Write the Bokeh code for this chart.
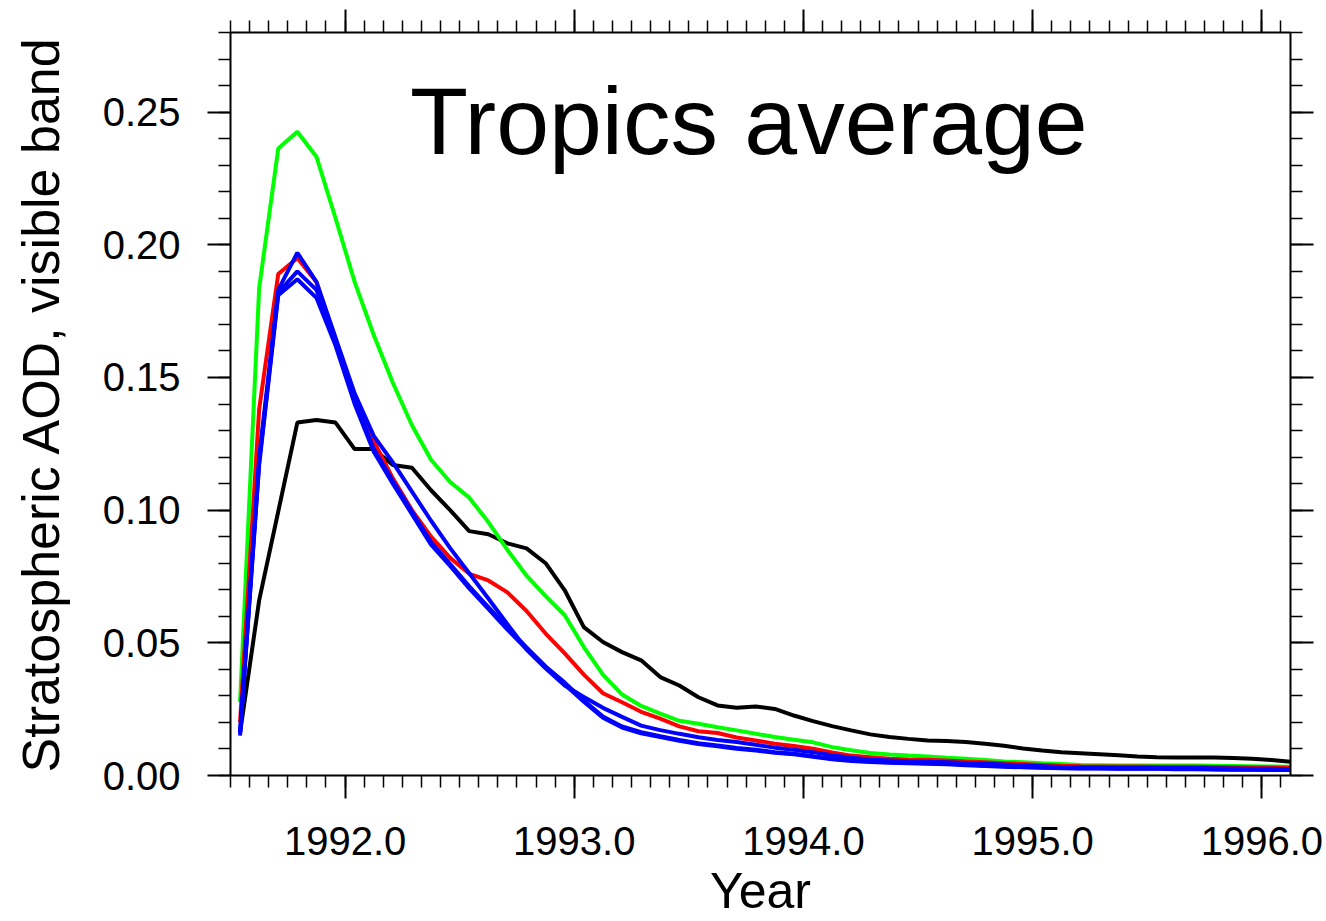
import numpy as np
from bokeh.plotting import figure
from bokeh.models import FixedTicker, PrintfTickFormatter, LinearAxis, Label, Range1d
from bokeh.embed import file_html
from bokeh.resources import INLINE

# ---------------- data ----------------
start_year = 1991.5          # first month: July 1991, plotted at mid-month
n_months = 56
time = start_year + (np.arange(n_months) + 0.5) / 12.0

obs_black = [0.016, 0.066, 0.0995, 0.133, 0.134, 0.133, 0.123, 0.123, 0.117, 0.116,
             0.1075, 0.100, 0.0921, 0.0909, 0.0875, 0.0856, 0.080, 0.0698, 0.0559, 0.0503,
             0.0465, 0.0434, 0.0371, 0.0339, 0.0295, 0.0264, 0.0255, 0.026, 0.0251, 0.0226,
             0.0205, 0.0186, 0.017, 0.0155, 0.0145, 0.0138, 0.0132, 0.013, 0.0126, 0.012,
             0.0112, 0.0102, 0.0094, 0.0088, 0.0084, 0.008, 0.0076, 0.0072, 0.0069, 0.0068,
             0.0068, 0.0068, 0.0066, 0.0063, 0.0058, 0.0052]

run_green = [0.0277, 0.1836, 0.2363, 0.2426, 0.2332, 0.210, 0.186, 0.166, 0.148, 0.132,
             0.119, 0.1106, 0.1047, 0.0955, 0.085, 0.0753, 0.0676, 0.0604, 0.0484, 0.038,
             0.0305, 0.0262, 0.0233, 0.0206, 0.0195, 0.0182, 0.017, 0.0157, 0.0145, 0.0135,
             0.0125, 0.0107, 0.0095, 0.0085, 0.0079, 0.0075, 0.0072, 0.0067, 0.0063, 0.0058,
             0.0053, 0.005, 0.0046, 0.0043, 0.004, 0.0039, 0.0038, 0.0038, 0.0038, 0.0038,
             0.0038, 0.0037, 0.0036, 0.0035, 0.0034, 0.0033]

run_red = [0.02, 0.138, 0.189, 0.195, 0.186, 0.164, 0.143, 0.126, 0.112, 0.100,
           0.090, 0.082, 0.076, 0.0735, 0.069, 0.062, 0.0535, 0.046, 0.038, 0.031,
           0.0276, 0.024, 0.0214, 0.0185, 0.0167, 0.016, 0.0143, 0.0132, 0.012, 0.0111,
           0.0101, 0.0087, 0.0075, 0.0069, 0.0063, 0.006, 0.0059, 0.0057, 0.0053, 0.005,
           0.0046, 0.0043, 0.004, 0.0037, 0.0035, 0.0034, 0.0034, 0.0034, 0.0033, 0.0033,
           0.0033, 0.0032, 0.0031, 0.003, 0.003, 0.0029]

run_blue1 = [0.016, 0.12, 0.183, 0.197, 0.186, 0.165, 0.144, 0.128, 0.118, 0.107,
             0.096, 0.0857, 0.0762, 0.0667, 0.057, 0.0475, 0.0404, 0.0339, 0.0296, 0.0255,
             0.0221, 0.0188, 0.0171, 0.0157, 0.0144, 0.0134, 0.0126, 0.0116, 0.0105, 0.0097,
             0.0088, 0.0076, 0.0067, 0.006, 0.0057, 0.0054, 0.0052, 0.005, 0.0047, 0.0044,
             0.0041, 0.0038, 0.0035, 0.0032, 0.003, 0.003, 0.0029, 0.0029, 0.0029, 0.0028,
             0.0028, 0.0027, 0.0026, 0.0025, 0.0025, 0.0024]

run_blue2 = [0.016, 0.118, 0.182, 0.190, 0.183, 0.163, 0.142, 0.123, 0.111, 0.0995,
             0.088, 0.0797, 0.0713, 0.0635, 0.0557, 0.0483, 0.0411, 0.035, 0.0283, 0.0222,
             0.0185, 0.0163, 0.0148, 0.0134, 0.0122, 0.0113, 0.0104, 0.0097, 0.0088, 0.0082,
             0.0073, 0.0063, 0.0057, 0.0053, 0.005, 0.0048, 0.0046, 0.0044, 0.0041, 0.0038,
             0.0035, 0.0032, 0.003, 0.0028, 0.0027, 0.0027, 0.0026, 0.0026, 0.0026, 0.0025,
             0.0025, 0.0024, 0.0023, 0.0023, 0.0022, 0.0022]

run_blue3 = [0.015, 0.117, 0.181, 0.187, 0.180, 0.162, 0.140, 0.122, 0.110, 0.0985,
             0.087, 0.079, 0.0705, 0.0628, 0.055, 0.0476, 0.0405, 0.0343, 0.0278, 0.0218,
             0.0181, 0.0159, 0.0145, 0.0131, 0.0119, 0.011, 0.0101, 0.0094, 0.0086, 0.008,
             0.0071, 0.0061, 0.0055, 0.0051, 0.0048, 0.0046, 0.0044, 0.0042, 0.0039, 0.0036,
             0.0033, 0.0031, 0.0029, 0.0027, 0.0026, 0.0026, 0.0025, 0.0025, 0.0025, 0.0024,
             0.0024, 0.0023, 0.0022, 0.0022, 0.0021, 0.0021]

x_major = [1992, 1993, 1994, 1995, 1996]
y_major = [0.0, 0.05, 0.10, 0.15, 0.20, 0.25]

# ---------------- figure ----------------
X0, X1 = 1991.5, 1996.125
Y0, Y1 = 0.0, 0.28
FONT = "Liberation Sans"

p = figure(width=1326, height=921,
           x_range=Range1d(X0, X1), y_range=Range1d(Y0, Y1),
           output_backend="svg", toolbar_location=None,
           min_border_left=230, min_border_right=36,
           min_border_top=32, min_border_bottom=146,
           x_axis_location=None, y_axis_location=None)
p.xgrid.visible = False
p.ygrid.visible = False
p.outline_line_color = None
p.background_fill_color = "white"
p.border_fill_color = "white"

x_minor = list(np.arange(X0, X1 + 1e-9, 1.0 / 12.0))
y_minor = list(np.round(np.arange(Y0, Y1 + 1e-9, 0.01), 4))


def make_axis(kind, show_labels):
    if kind == "x":
        ax = LinearAxis(ticker=FixedTicker(ticks=x_major, minor_ticks=x_minor),
                        formatter=PrintfTickFormatter(format="%.1f"))
    else:
        ax = LinearAxis(ticker=FixedTicker(ticks=y_major, minor_ticks=y_minor),
                        formatter=PrintfTickFormatter(format="%.2f"))
    ax.axis_line_color = "black"
    ax.axis_line_width = 2
    ax.major_tick_in = 0
    ax.major_tick_out = 23
    ax.minor_tick_in = 0
    ax.minor_tick_out = 12
    ax.major_tick_line_color = "black"
    ax.minor_tick_line_color = "black"
    ax.major_tick_line_width = 2
    ax.minor_tick_line_width = 1.5
    if show_labels:
        ax.major_label_text_font = FONT
        ax.major_label_text_font_size = "40px"
        ax.major_label_text_color = "black"
        ax.axis_label_text_font = FONT
        ax.axis_label_text_font_style = "normal"
        ax.axis_label_text_color = "black"
    else:
        ax.major_label_text_font_size = "0px"
        ax.major_label_standoff = 0
        ticks = x_major if kind == "x" else y_major
        ax.major_label_overrides = {float(t): "" for t in ticks}
    return ax


xb = make_axis("x", True)
xb.axis_label = "Year"
xb.axis_label_text_font_size = "50px"
xb.major_label_standoff = 28
xb.axis_label_standoff = 5
p.add_layout(xb, "below")

yl = make_axis("y", True)
yl.axis_label = "Stratospheric AOD, visible band"
yl.axis_label_text_font_size = "52px"
yl.major_label_standoff = 27
yl.axis_label_standoff = 30
p.add_layout(yl, "left")

p.add_layout(make_axis("x", False), "above")
p.add_layout(make_axis("y", False), "right")

# ---------------- lines ----------------
LW = 4
p.line(time, obs_black, line_color="black", line_width=LW)
p.line(time, run_green, line_color="#00ff00", line_width=LW)
p.line(time, run_red, line_color="#ff0000", line_width=LW)
p.line(time, run_blue1, line_color="#0000ff", line_width=LW)
p.line(time, run_blue2, line_color="#0000ff", line_width=LW)
p.line(time, run_blue3, line_color="#0000ff", line_width=LW)

# ---------------- title inside plot ----------------
title = Label(x=X0 + 0.489 * (X1 - X0), y=Y0 + 0.881 * (Y1 - Y0),
              text="Tropics average", text_align="center", text_baseline="alphabetic",
              text_font=FONT, text_font_size="95px", text_color="black")
p.add_layout(title)

open("out.html", "w").write(file_html(p, INLINE))
